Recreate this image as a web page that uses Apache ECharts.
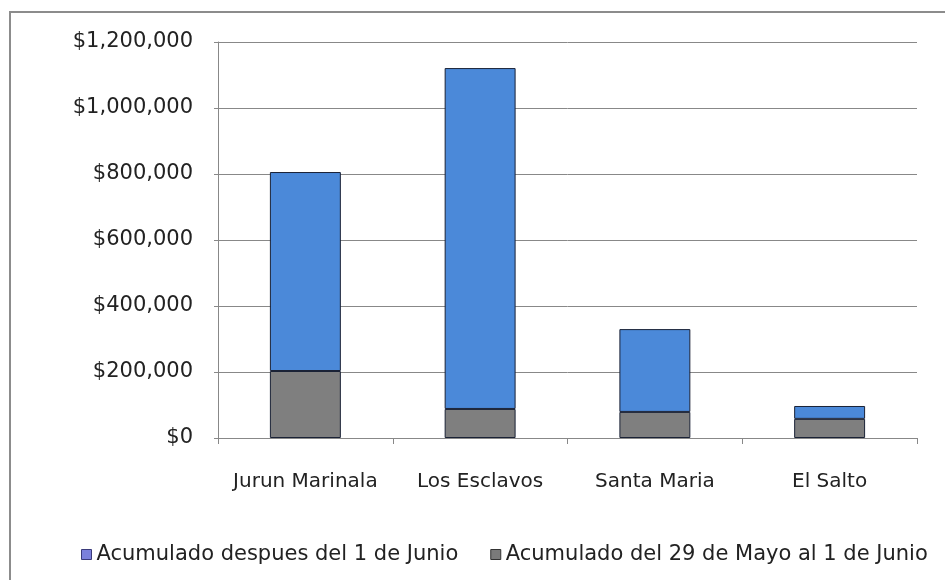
<!DOCTYPE html>
<html>
<head>
<meta charset="utf-8">
<script src="https://cdn.jsdelivr.net/npm/echarts@6/dist/echarts.min.js"></script>
<style>
  html, body { margin: 0; padding: 0; background: #fff; }
  #chart { width: 945px; height: 580px; }
</style>
</head>
<body>
<div id="chart"></div>
<script>
// datos
const categories = ['Jurun Marinala', 'Los Esclavos', 'Santa Maria', 'El Salto'];
const antesJunio = [203000, 88000, 79000, 58000];      // del 29 de Mayo al 1 de Junio
const despuesJunio = [603000, 1033000, 251000, 39000];  // despues del 1 de Junio
const seriesNames = ['Acumulado despues del 1 de Junio', 'Acumulado del 29 de Mayo al 1 de Junio'];

const font = 'DejaVu Sans';

function money(v) {
  return '$' + v.toLocaleString('en-US');
}

const chart = echarts.init(document.getElementById('chart'));
chart.setOption({
  backgroundColor: '#fff',
  animation: false,
  graphic: [
    {
      type: 'rect',
      shape: { x: 10, y: 12, width: 960, height: 600 },
      style: { fill: 'none', stroke: '#8c8c8c', lineWidth: 2 },
      z: -1
    }
  ],
  grid: { left: 218, right: 28, top: 42, bottom: 142 },
  legend: {
    left: 76,
    top: 539,
    icon: 'rect',
    itemWidth: 10,
    itemHeight: 10,
    itemGap: 32,
    textStyle: { fontFamily: font, fontSize: 21, color: '#222' },
    data: [
      { name: seriesNames[0], itemStyle: { color: '#7b80dc', borderColor: '#3a3a7a', borderWidth: 1 } },
      { name: seriesNames[1], itemStyle: { color: '#7a7a7a', borderColor: '#333', borderWidth: 1 } }
    ]
  },
  xAxis: {
    type: 'category',
    data: categories,
    axisLine: { lineStyle: { color: '#888', width: 1 } },
    axisTick: { show: true, length: 6, lineStyle: { color: '#888' } },
    axisLabel: { interval: 0, hideOverlap: false, fontFamily: font, fontSize: 20, color: '#222', margin: 34 }
  },
  yAxis: {
    type: 'value',
    min: 0,
    max: 1200000,
    interval: 200000,
    axisLine: { show: true, lineStyle: { color: '#888', width: 1 } },
    axisTick: { show: true, length: 4, lineStyle: { color: '#888' } },
    splitLine: { lineStyle: { color: '#888', width: 1 } },
    axisLabel: { fontFamily: font, fontSize: 21, color: '#222', margin: 25, formatter: money }
  },
  series: [
    {
      name: seriesNames[1],
      type: 'bar',
      stack: 'total',
      barWidth: '40.6%',
      data: antesJunio,
      itemStyle: { color: '#7f7f7f', borderColor: '#1a2236', borderWidth: 1 }
    },
    {
      name: seriesNames[0],
      type: 'bar',
      stack: 'total',
      barWidth: '40.6%',
      data: despuesJunio,
      itemStyle: { color: '#4b89d9', borderColor: '#1a2236', borderWidth: 1 }
    }
  ]
});
</script>
</body>
</html>
